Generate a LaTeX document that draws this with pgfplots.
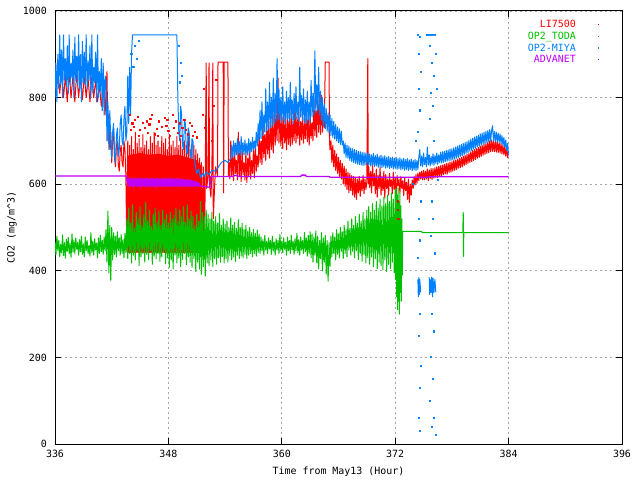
\documentclass[border=0pt]{standalone}
\usepackage{fontspec}
\setmainfont{DejaVu Sans Mono}
\usepackage{pgfplots}
\pgfplotsset{compat=1.18}
\definecolor{gred}{RGB}{255,0,0}
\definecolor{ggreen}{RGB}{0,192,0}
\definecolor{gblue}{RGB}{0,128,255}
\definecolor{gmag}{RGB}{192,0,255}
\begin{document}
\begin{tikzpicture}
\useasboundingbox (-55bp,-36bp) rectangle (585bp,444bp);
\begin{axis}[
  scale only axis, width=567bp, height=433bp,
  xmin=336, xmax=396, ymin=0, ymax=1000,
  xtick={336,348,...,396}, ytick={0,200,...,1000},
  grid=major,
  major grid style={gray!70, dash pattern=on 2bp off 3bp, line width=0.8bp},
  tick align=inside, major tick length=6bp,
  axis line style={line width=1bp},
  every tick/.style={black, line width=1bp},
  /pgf/number format/assume math mode=true,
  /pgf/number format/1000 sep={},
  every tick label/.append style={font=\fontsize{10}{12}\selectfont},
  xticklabel style={yshift=-3bp},
  yticklabel style={xshift=-4.5bp},
  xlabel={Time from May13 (Hour)},
  ylabel={CO2 (mg/m\textasciicircum 3)},
  label style={font=\fontsize{10}{12}\selectfont},
  xlabel style={at={(axis description cs:0.5,-0.0647)}, anchor=center},
  ylabel style={at={(axis description cs:-0.0758,0.5)}, anchor=center},
  legend style={at={(axis description cs:0.965,0.988)}, anchor=north east,
    draw=none, fill=none, font=\fontsize{10}{12}\selectfont, row sep=-1.2bp},
  legend cell align=right,
  legend plot pos=right,
  legend image code/.code={\path[draw=none,fill=none] (0bp,0bp) -- (21.2bp,0bp); \fill[#1,draw=none] (20bp,-0.5bp) rectangle (21.2bp,0.7bp);},
  every axis plot/.append style={line width=1bp, line join=round},
  unbounded coords=jump,
]
% ---------------- LI7500 ----------------
\addplot[gred] coordinates {
(336.0,880)(336.1,820)(336.3,870)(336.5,810)(336.7,860)(336.9,800)(337.1,850)(337.3,790)(337.5,860)(337.7,800)
(337.9,850)(338.1,790)(338.3,860)(338.5,800)(338.7,850)(338.9,795)(339.1,855)(339.3,800)(339.5,845)(339.7,790)
(339.9,850)(340.1,800)(340.3,840)(340.5,790)(340.7,830)(340.9,780)(341.1,820)(341.3,760)
(341.5,860)(341.6,700)(341.7,760)(341.8,680)(341.9,720)(342.0,650)(342.1,700)(342.2,730)(342.3,660)(342.4,640)
(342.5,690)(342.6,700)(342.7,645)(342.8,630)(342.9,675)(343.0,690)(343.1,650)(343.2,640)(343.3,700)(343.4,680)(343.5,620)
(343.6,445)(343.7,700)(343.8,443)(343.9,690)(344.0,442)(344.1,710)(344.2,444)(344.3,680)(344.4,442)(344.5,720)
(344.6,443)(344.7,695)(344.8,442)(344.9,705)(345.0,445)(345.1,685)(345.2,442)(345.3,715)(345.4,443)(345.5,690)
(345.6,442)(345.7,700)(345.8,444)(345.9,680)(346.0,442)(346.1,710)(346.2,443)(346.3,695)(346.4,442)(346.5,720)
(346.6,445)(346.7,690)(346.8,442)(346.9,700)(347.0,443)(347.1,685)(347.2,442)(347.3,710)(347.4,444)(347.5,695)
(347.6,442)(347.7,705)(347.8,443)(347.9,680)(348.0,442)(348.1,715)(348.2,445)(348.3,690)(348.4,442)(348.5,700)
(348.6,443)(348.7,685)(348.8,442)(348.9,710)(349.0,444)(349.1,690)(349.2,442)(349.3,705)(349.4,443)(349.5,680)
(349.6,442)(349.7,700)(349.8,445)(349.9,690)(350.0,442)(350.1,710)(350.2,443)(350.3,680)(350.4,442)(350.5,695)
(350.6,444)(350.7,690)(350.8,442)(350.9,680)(351.0,443)(351.1,670)(351.2,442)(351.3,660)(351.4,444)(351.5,650)
(351.6,445)(351.7,640)(351.75,460)(351.8,620)(351.85,500)(352.0,880)(352.05,590)(352.2,620)(352.3,880)(352.35,600)
(352.5,570)(352.6,630)(352.7,880)(352.75,520)(352.9,600)(353.0,640)(353.2,620)(353.25,882)(353.8,882)(353.85,580)
(353.9,882)(354.3,882)(354.35,620)
(354.4,650)(354.5,612)(354.6,700)(354.7,620)(354.8,665)(354.9,608)(355.0,690)(355.1,625)(355.2,655)(355.3,610)
(355.4,720)(355.5,618)(355.6,672)(355.7,606)(355.8,685)(355.9,622)(356.0,650)(356.1,610)(356.2,675)(356.3,604)
(356.4,660)(356.5,620)(356.6,690)(356.7,612)(356.8,655)(356.9,625)(357.0,680)(357.1,615)(357.2,700)(357.3,630)
(357.4,665)(357.5,640)
(357.6,725)(357.7,650)(357.8,700)(357.9,645)(358.0,740)(358.1,662)(358.2,715)(358.3,655)(358.4,750)(358.5,670)
(358.6,728)(358.7,660)(358.8,770)(358.9,680)(359.0,735)(359.1,672)(359.2,790)(359.3,690)(359.4,760)(359.5,700)
(359.6,845)(359.7,695)(359.8,770)(359.9,688)(360.0,755)(360.1,682)(360.2,780)(360.3,695)(360.4,740)(360.5,680)
(360.6,770)(360.7,692)(360.8,745)(360.9,688)
(361.0,775)(361.1,692)(361.2,745)(361.3,700)(361.4,790)(361.5,695)(361.6,755)(361.7,705)(361.8,770)(361.9,690)
(362.0,745)(362.1,702)(362.2,765)(362.3,695)(362.4,740)(362.5,705)(362.6,780)(362.7,698)(362.8,750)(362.9,690)
(363.0,760)(363.1,706)(363.2,742)(363.3,700)(363.4,800)(363.5,712)(363.6,770)(363.7,708)(363.8,825)(363.9,720)
(364.0,790)(364.1,715)(364.2,805)(364.3,720)(364.4,760)(364.5,730)(364.6,882)(365.0,882)(365.05,700)
(365.1,680)(365.2,700)(365.3,650)(365.4,690)(365.5,640)(365.6,678)(365.7,632)(365.8,670)(365.9,625)(366.0,662)
(366.1,618)(366.2,655)(366.3,612)(366.4,648)(366.5,600)(366.6,642)(366.7,595)(366.8,635)(366.9,588)(367.0,628)
(367.1,580)(367.2,625)(367.3,585)(367.4,620)(367.5,575)(367.6,618)(367.7,570)(367.8,615)(367.9,565)(368.0,612)
(368.1,580)(368.2,618)(368.3,572)(368.4,610)(368.5,585)(368.6,620)(368.7,578)(368.8,612)(368.9,588)(369.0,605)
(369.1,890)(369.15,600)
(369.2,640)(369.3,592)(369.4,630)(369.5,580)(369.6,648)(369.7,596)(369.8,625)(369.9,578)(370.0,635)(370.1,570)
(370.2,620)(370.3,590)(370.4,640)(370.5,575)(370.6,618)(370.7,585)(370.8,630)(370.9,568)(371.0,622)(371.1,590)
(371.2,612)(371.3,575)(371.4,625)(371.5,595)(371.6,610)(371.7,578)(371.8,628)(371.9,588)(372.0,615)(372.1,572)
(372.2,620)(372.3,596)(372.4,612)(372.5,580)(372.6,618)(372.7,590)(372.8,608)(372.9,574)(373.0,615)(373.1,585)
(373.2,605)(373.3,565)(373.4,612)(373.5,558)(373.6,600)(373.7,575)(373.8,610)(373.9,590)(374.0,618)(374.1,598)
(374.2,622)(374.3,602)(374.4,625)(374.5,608)(374.6,628)(374.7,612)(374.8,630)(374.9,610)
(375.0,632)(375.1,610)(375.2,630)(375.3,612)(375.4,635)(375.5,608)(375.6,633)(375.7,613)(375.8,636)(375.9,611)
(376.0,636)(376.1,614)(376.2,638)(376.3,616)(376.4,640)(376.5,615)(376.6,641)(376.7,619)(376.8,643)(376.9,618)
(377.0,644)(377.1,622)(377.2,646)(377.3,624)(377.4,648)(377.5,623)(377.6,649)(377.7,627)(377.8,651)(377.9,628)
(378.0,652)(378.1,630)(378.2,655)(378.3,632)(378.4,656)(378.5,634)(378.6,658)(378.7,637)(378.8,660)(378.9,638)
(379.0,662)(379.1,640)(379.2,665)(379.3,643)(379.4,667)(379.5,645)(379.6,669)(379.7,648)(379.8,672)(379.9,650)
(380.0,675)(380.1,652)(380.2,678)(380.3,655)(380.4,680)(380.5,657)(380.6,682)(380.7,660)(380.8,685)(380.9,662)
(381.0,688)(381.1,664)(381.2,690)(381.3,667)(381.4,692)(381.5,669)(381.6,694)(381.7,671)(381.8,697)(381.9,673)
(382.0,700)(382.1,675)(382.2,702)(382.3,676)(382.4,699)(382.5,675)(382.6,700)(382.7,674)(382.8,698)(382.9,673)
(383.0,696)(383.1,672)(383.2,694)(383.3,670)(383.4,691)(383.5,668)(383.6,688)(383.7,665)(383.8,684)(383.9,661)(384.0,676)
};
\addlegendentry{\textcolor{gred}{LI7500}}
% dense core of the LI7500 block
\addplot[gred, fill=gred, draw=none, forget plot] coordinates {
(343.6,442)(351.55,442)(351.55,640)(351.0,655)(350.0,662)(349.0,668)(348.0,665)(347.0,670)(346.0,668)(345.0,672)(344.0,668)(343.6,665)
} -- cycle;
% scattered red points
\addplot[gred, only marks, mark=square*, mark size=0.6bp, forget plot] coordinates {
(343.9,760)(344.2,740)(344.8,755)(345.0,725)(345.5,730)(346.3,760)(346.8,728)(347.0,745)(347.8,735)(348.0,722)
(348.5,760)(349.2,740)(349.5,730)(349.9,725)(350.5,735)(351.7,760)(351.8,820)(351.9,730)(352.6,700)(352.8,780)(353.1,840)
(344.0,725)(344.5,748)(344.9,712)(345.3,742)(345.8,718)(346.1,750)(346.6,715)(347.3,732)(347.6,752)(348.2,712)
(348.8,745)(349.0,718)(349.7,748)(350.1,715)(350.3,742)(350.8,720)(351.0,708)(346.0,738)(347.9,748)(349.3,712)
(344.4,732)(345.7,745)(346.9,712)(348.6,730)(350.6,712)
(372.3,560)(372.3,540)(372.35,520)
};
% ---------------- OP2_TODA ----------------
\addplot[ggreen] coordinates {
(336.0,467)(336.1,437)(336.2,480)(336.3,447)(336.4,470)(336.5,433)(336.6,461)(336.7,441)(336.8,483)(336.9,435)
(337.0,465)(337.1,429)(337.2,473)(337.3,445)(337.4,477)(337.5,439)(337.6,463)(337.7,431)(337.8,485)(337.9,443)
(338.0,470)(338.1,440)(338.2,476)(338.3,450)(338.4,466)(338.5,436)(338.6,472)(338.7,444)(338.8,480)(338.9,438)
(339.0,462)(339.1,432)(339.2,478)(339.3,446)(339.4,470)(339.5,440)(339.6,458)(339.7,434)(339.8,488)(339.9,442)
(340.0,468)(340.1,436)(340.2,474)(340.3,448)(340.4,464)(340.5,430)(340.6,476)(340.7,440)(340.8,482)(340.9,444)
(341.0,470)(341.1,438)(341.2,478)(341.3,446)(341.4,495)
(341.5,420)(341.6,538)(341.7,395)(341.8,505)(341.9,378)(342.0,500)(342.1,425)
(342.2,488)(342.3,438)(342.4,480)(342.5,432)(342.6,490)(342.7,446)(342.8,476)(342.9,436)(343.0,484)(343.1,440)
(343.2,472)(343.3,430)(343.4,486)(343.5,442)
(343.6,520)(343.7,428)(343.8,545)(343.9,440)(344.0,510)(344.1,418)(344.2,552)(344.3,436)(344.4,498)(344.5,425)
(344.6,535)(344.7,445)(344.8,520)(344.9,412)(345.0,548)(345.1,432)(345.2,505)(345.3,440)(345.4,530)(345.5,420)
(345.6,558)(345.7,438)(345.8,515)(345.9,426)(346.0,540)(346.1,446)(346.2,502)(346.3,415)(346.4,530)(346.5,434)
(346.6,545)(346.7,428)(346.8,512)(346.9,440)(347.0,538)(347.1,422)(347.2,505)(347.3,432)(347.4,540)(347.5,444)
(347.6,518)(347.7,416)(347.8,530)(347.9,430)(348.0,510)(348.1,408)(348.2,535)(348.3,425)(348.4,520)(348.5,404)
(348.6,528)(348.7,436)(348.8,545)(348.9,418)(349.0,515)(349.1,430)(349.2,540)(349.3,410)(349.4,525)(349.5,426)
(349.6,548)(349.7,440)(349.8,512)(349.9,414)(350.0,552)(350.1,432)(350.2,520)(350.3,420)(350.4,538)(350.5,408)
(350.6,526)(350.7,428)(350.8,505)(350.9,398)(351.0,530)(351.1,420)(351.2,515)(351.3,404)(351.4,560)(351.5,392)
(351.6,535)(351.7,410)(351.8,525)(351.9,388)(352.0,540)
(352.1,418)(352.2,530)(352.3,412)(352.4,520)(352.5,425)(352.6,535)(352.7,410)(352.8,515)(352.9,428)(353.0,525)
(353.1,415)(353.2,510)(353.3,430)(353.4,532)(353.5,420)(353.6,505)(353.7,432)(353.8,520)(353.9,418)(354.0,508)
(354.1,428)(354.2,515)(354.3,420)(354.4,500)(354.5,435)(354.6,522)(354.7,425)(354.8,505)(354.9,432)(355.0,512)
(355.1,422)(355.2,498)(355.3,436)(355.4,518)(355.5,428)(355.6,500)(355.7,434)(355.8,510)(355.9,430)(356.0,495)
(356.1,438)(356.2,505)(356.3,428)(356.4,492)(356.5,436)(356.6,500)(356.7,440)(356.8,488)(356.9,432)(357.0,496)
(357.1,440)(357.2,486)(357.3,434)(357.4,494)(357.5,442)(357.6,485)
(357.7,440)(357.8,478)(357.9,446)(358.0,472)(358.1,436)(358.2,482)(358.3,448)(358.4,468)(358.5,440)(358.6,476)
(358.7,450)(358.8,470)(358.9,438)(359.0,480)(359.1,446)(359.2,466)(359.3,436)(359.4,474)(359.5,448)(359.6,470)
(359.7,440)(359.8,484)(359.9,446)(360.0,468)(360.1,442)(360.2,476)(360.3,450)(360.4,466)(360.5,436)(360.6,478)
(360.7,446)(360.8,470)(360.9,440)(361.0,482)(361.1,448)(361.2,468)(361.3,438)(361.4,474)(361.5,446)(361.6,486)
(361.7,442)(361.8,472)(361.9,436)(362.0,478)(362.1,448)(362.2,470)(362.3,440)(362.4,488)(362.5,444)(362.6,476)
(362.7,434)(362.8,482)(362.9,440)(363.0,490)
(363.1,430)(363.2,485)(363.3,420)(363.4,478)(363.5,436)(363.6,492)(363.7,418)(363.8,480)(363.9,405)(364.0,470)
(364.1,428)(364.2,488)(364.3,400)(364.4,476)(364.5,420)(364.6,482)(364.7,392)(364.8,470)(364.9,376)(365.0,465)
(365.1,410)(365.2,480)
(365.3,432)(365.4,488)(365.5,440)(365.6,478)(365.7,425)(365.8,495)(365.9,438)(366.0,485)(366.1,430)(366.2,500)
(366.3,445)(366.4,490)(366.5,428)(366.6,505)(366.7,440)(366.8,495)(366.9,432)(367.0,515)(367.1,448)(367.2,498)
(367.3,436)(367.4,520)(367.5,445)(367.6,505)(367.7,430)(367.8,525)(367.9,446)(368.0,510)(368.1,426)(368.2,530)
(368.3,440)(368.4,515)(368.5,422)(368.6,535)(368.7,438)(368.8,520)(368.9,418)(369.0,540)
(369.1,430)(369.2,548)(369.3,415)(369.4,535)(369.5,432)(369.6,555)(369.7,410)(369.8,540)(369.9,428)(370.0,560)
(370.1,405)(370.2,545)(370.3,420)(370.4,565)(370.5,412)(370.6,550)(370.7,402)(370.8,570)(370.9,425)(371.0,555)
(371.1,398)(371.2,575)(371.3,415)(371.4,560)(371.5,405)(371.6,580)(371.7,420)(371.8,565)(371.9,395)(372.0,585)
(372.05,380)(372.1,590)(372.15,340)(372.2,575)(372.25,310)(372.3,592)(372.35,330)(372.4,560)(372.45,300)(372.5,580)
(372.55,350)(372.6,550)(372.65,330)(372.7,520)(372.75,390)(372.8,491)(374.8,491)(374.85,488)(379.15,488)(379.2,535)
(379.23,433)(379.26,488)(384.0,488)
};
\addlegendentry{\textcolor{ggreen}{OP2\_TODA}}
% ---------------- OP2-MIYA ----------------
\addplot[gblue] coordinates {
(336.0,800)(336.1,880)(336.2,790)(336.3,900)(336.4,820)(336.5,945)(336.6,830)(336.7,910)(336.8,800)(336.9,945)
(337.0,840)(337.1,890)(337.2,825)(337.3,920)(337.4,810)(337.5,945)(337.6,830)(337.7,880)(337.8,845)(337.9,910)
(338.0,800)(338.1,940)(338.2,840)(338.3,895)(338.4,830)(338.5,945)(338.6,820)(338.7,900)(338.8,790)(338.9,930)
(339.0,835)(339.1,905)(339.2,830)(339.3,945)(339.4,820)(339.5,885)(339.6,840)(339.7,920)(339.8,800)(339.9,945)
(340.0,810)(340.1,870)(340.2,835)(340.3,905)(340.4,790)(340.5,945)(340.6,800)(340.7,860)(340.8,815)(340.9,890)
(341.0,770)(341.1,880)(341.2,760)(341.3,850)
(341.4,840)(341.5,700)(341.6,790)(341.7,680)(341.8,770)(341.9,700)(342.0,660)(342.1,720)(342.2,740)(342.3,670)
(342.4,650)(342.5,710)(342.6,730)(342.7,665)(342.8,680)(342.9,740)(343.0,760)(343.1,700)(343.2,690)(343.3,750)
(343.4,780)(343.5,700)(343.6,720)(343.7,850)(343.8,740)(343.9,870)(344.0,760)(344.1,900)
(344.2,945)(348.9,945)(349.0,800)(349.1,720)(349.2,700)(349.3,780)(349.4,760)(349.5,690)(349.6,680)(349.7,750)
(349.8,740)(349.9,675)(350.0,670)(350.1,730)(350.2,720)(350.3,665)(350.4,660)(350.5,705)(350.6,700)(350.7,660)
(350.8,650)(351.0,625)(351.2,635)(351.4,615)(351.6,625)(351.8,618)(352.0,628)(352.3,622)(352.6,632)
(353.0,630)(353.3,640)(353.6,650)(354.0,655)(354.3,650)
(354.6,660)(354.7,690)(354.8,662)(354.9,700)(355.0,665)(355.1,695)(355.2,668)(355.3,705)(355.4,670)(355.5,698)
(355.6,666)(355.7,710)(355.8,672)(355.9,696)(356.0,668)(356.1,702)(356.2,670)(356.3,694)(356.4,667)(356.5,705)
(356.6,672)(356.7,698)(356.8,675)(356.9,708)(357.0,678)(357.1,700)(357.2,682)(357.3,720)(357.4,688)(357.5,740)
(357.6,700)(357.7,770)(357.8,705)(357.9,790)(358.0,712)(358.1,760)(358.2,720)(358.3,820)(358.4,722)(358.5,790)
(358.6,728)(358.7,835)(358.8,730)(358.9,800)(359.0,735)(359.1,845)(359.2,740)(359.3,810)(359.4,745)(359.5,890)
(359.6,748)(359.7,820)(359.8,750)(359.9,800)
(360.0,742)(360.1,825)(360.2,748)(360.3,790)(360.4,740)(360.5,815)(360.6,750)(360.7,800)(360.8,745)(360.9,835)
(361.0,752)(361.1,795)(361.2,740)(361.3,810)(361.4,748)(361.5,825)(361.6,752)(361.7,790)(361.8,745)(361.9,870)
(362.0,755)(362.1,805)(362.2,748)(362.3,820)(362.4,742)(362.5,795)(362.6,740)(362.7,815)(362.8,748)(362.9,790)
(363.0,742)(363.1,840)(363.2,755)(363.3,810)(363.4,760)(363.5,908)(363.6,765)(363.7,830)(363.8,770)(363.9,870)
(364.0,760)(364.1,815)(364.2,748)
(364.3,800)(364.4,735)(364.5,785)(364.6,728)(364.7,775)(364.8,722)(364.9,765)(365.0,718)(365.1,760)(365.2,712)
(365.3,752)(365.4,708)(365.5,745)(365.6,704)(365.7,738)(365.8,700)(365.9,732)(366.0,696)(366.1,728)(366.2,692)
(366.3,722)(366.4,690)
(366.5,700)(366.6,670)(366.7,695)(366.8,662)(366.9,690)(367.0,660)(367.1,688)(367.2,655)(367.3,684)(367.4,652)
(367.5,682)(367.6,650)(367.7,680)(367.8,648)(367.9,678)(368.0,646)(368.1,676)(368.2,645)(368.3,675)(368.4,644)
(368.5,674)(368.6,643)(368.7,673)(368.8,644)(368.9,672)(369.0,645)
(369.1,672)(369.2,645)(369.3,670)(369.4,642)(369.5,668)(369.6,644)(369.7,671)(369.8,640)(369.9,666)(370.0,642)
(370.1,669)(370.2,639)(370.3,665)(370.4,641)(370.5,667)(370.6,638)(370.7,664)(370.8,640)(370.9,666)(371.0,637)
(371.1,662)(371.2,639)(371.3,664)(371.4,636)(371.5,661)(371.6,638)(371.7,663)(371.8,635)(371.9,660)(372.0,637)
(372.1,662)(372.2,634)(372.3,659)(372.4,636)(372.5,661)(372.6,633)(372.7,658)(372.8,635)(372.9,660)(373.0,632)
(373.1,657)(373.2,634)(373.3,659)(373.4,632)(373.5,656)(373.6,634)(373.7,658)(373.8,631)(373.9,655)(374.0,633)
(374.1,657)(374.2,632)(374.3,655)(374.4,634)(374.5,662)
(374.6,680)(374.7,642)(374.8,665)(374.9,640)(375.0,672)(375.1,645)(375.2,662)(375.3,640)(375.4,686)(375.5,644)
(375.6,668)(375.7,642)(375.8,664)(375.9,646)(376.0,670)(376.1,644)(376.2,666)(376.3,648)(376.4,672)(376.5,646)
(376.6,668)(376.7,650)(376.8,674)(376.9,649)
(377.0,675)(377.1,650)(377.2,676)(377.3,652)(377.4,678)(377.5,653)(377.6,679)(377.7,654)(377.8,681)(377.9,655)
(378.0,682)(378.1,656)(378.2,684)(378.3,658)(378.4,686)(378.5,660)(378.6,688)(378.7,662)(378.8,690)(378.9,664)
(379.0,692)(379.1,666)(379.2,694)(379.3,668)(379.4,696)(379.5,671)(379.6,698)(379.7,673)(379.8,701)(379.9,676)
(380.0,704)(380.1,678)(380.2,706)(380.3,681)(380.4,709)(380.5,683)(380.6,711)(380.7,686)(380.8,713)(380.9,688)
(381.0,716)(381.1,690)(381.2,718)(381.3,692)(381.4,720)(381.5,694)(381.6,722)(381.7,696)(381.8,724)(381.9,698)
(382.0,726)(382.1,700)(382.2,724)(382.3,735)(382.4,700)(382.5,722)(382.6,699)(382.7,720)(382.8,698)(382.9,718)
(383.0,697)(383.1,716)(383.2,694)(383.3,712)(383.4,690)(383.5,708)(383.6,685)(383.7,702)(383.8,678)(383.9,694)(384.0,668)
};
\addlegendentry{\textcolor{gblue}{OP2-MIYA}}
% blue short segments
\addplot[gblue, forget plot] coordinates {
(374.4,380)(374.45,340)(374.5,385)(374.55,345)(374.6,380)(374.7,350)(374.7,nan)
(375.6,385)(375.65,345)(375.7,380)(375.8,350)(375.85,385)(375.95,340)(376.0,383)(376.1,350)(376.2,380)(376.3,350)
};
% scattered blue points
\addplot[gblue, only marks, mark=square*, mark size=0.6bp, forget plot] coordinates {
(344.1,900)(344.3,870)(344.5,920)(344.7,890)(344.9,930)(349.1,920)(349.3,880)(349.4,850)(349.2,835)
(374.4,945)(374.6,940)(374.5,900)(374.7,860)(374.5,820)(374.6,770)(374.4,720)(374.7,560)(374.5,520)(374.6,470)
(374.4,430)(374.6,300)(374.5,250)(374.7,180)(374.6,130)(374.5,60)(374.6,30)
(375.4,945)(375.6,945)(375.8,945)(376.0,945)(376.2,945)(375.7,920)(375.9,880)(376.1,850)(375.8,810)(376.0,780)
(375.7,750)(376.1,700)(375.9,560)(376.0,520)(375.8,480)(376.2,440)(375.9,300)(376.1,260)(375.8,200)(376.0,150)
(375.7,100)(376.1,60)(375.9,40)(376.3,20)(376.3,900)(376.4,820)(376.5,610)(373.9,600)(374.2,700)
};
% ---------------- ADVANET ----------------
\addplot[gmag, line width=1.3bp] coordinates {
(336.0,619)(343.55,619)(343.6,612)(343.7,598)(343.8,614)(343.9,594)(344.0,613)(344.1,596)(344.2,614)(344.3,593)
(344.4,612)(344.5,596)(344.6,614)(344.7,594)(344.8,613)(344.9,595)(345.0,614)(345.1,593)(345.2,612)(345.3,596)
(345.4,614)(345.5,594)(345.6,613)(345.7,595)(345.8,614)(345.9,594)(346.0,612)(346.1,596)(346.2,613)(346.3,594)
(346.4,614)(346.5,595)(346.6,612)(346.7,593)(346.8,614)(346.9,596)(347.0,613)(347.1,594)(347.2,612)(347.3,595)
(347.4,614)(347.5,594)(347.6,613)(347.7,596)(347.8,612)(347.9,594)(348.0,614)(348.1,595)(348.2,613)(348.3,594)
(348.4,612)(348.5,596)(348.6,613)(348.7,594)(348.8,612)(348.9,595)(349.0,613)(349.1,594)(349.2,611)(349.3,596)
(349.4,612)(349.5,594)(349.6,611)(349.7,595)(349.8,610)(349.9,594)(350.0,611)(350.1,596)(350.2,610)(350.3,594)
(350.4,609)(350.5,595)(350.6,608)(350.7,594)(350.8,607)(350.9,596)(351.0,605)(351.1,595)(351.2,603)(351.3,596)
(352.4,593)(352.45,618)(354.9,618)(355.0,620)(355.3,620)(355.4,618)(362.0,618)(362.1,621)
(362.5,621)(362.6,618)(365.0,618)(365.1,616)(375.5,616)(375.6,617)(384.0,617)
};
\addlegendentry{\textcolor{gmag}{ADVANET}}
\end{axis}
\end{tikzpicture}
\end{document}
